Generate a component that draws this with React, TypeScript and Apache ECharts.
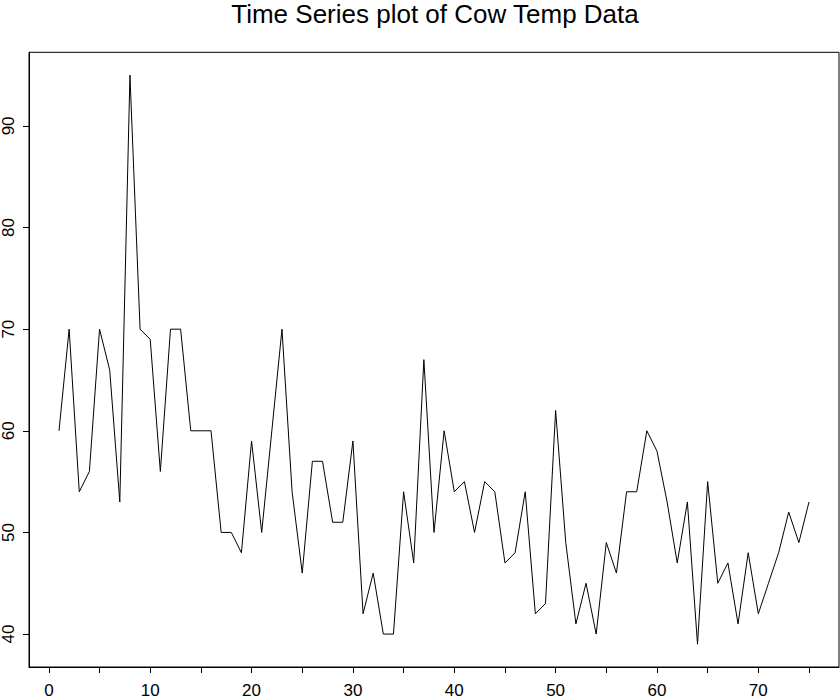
import React, { useEffect, useRef } from "react";
import * as echarts from "echarts";

const timeIndex: number[] = Array.from({ length: 75 }, (_, i) => i + 1);
const cowTemp: number[] = [
  60, 70, 54, 56, 70, 66, 53, 95, 70, 69, 56, 70, 70, 60, 60, 60, 50, 50, 48, 59,
  50, 60, 70, 54, 46, 57, 57, 51, 51, 59, 42, 46, 40, 40, 54, 47, 67, 50, 60, 54,
  55, 50, 55, 54, 47, 48, 54, 42, 43, 62, 49, 41, 45, 40, 49, 46, 54, 54, 60, 58,
  53, 47, 53, 39, 55, 45, 47, 41, 48, 42, 45, 48, 52, 49, 53,
];
const xTickValues: number[] = [0, 5, 10, 15, 20, 25, 30, 35, 40, 45, 50, 55, 60, 65, 70, 75];
const xLabelValues: number[] = [0, 10, 20, 30, 40, 50, 60, 70];
const yTickValues: number[] = [40, 50, 60, 70, 80, 90];
const titleText = "Time Series plot of Cow Temp Data";

export default function App() {
  const ref = useRef<HTMLDivElement>(null);
  useEffect(() => {
    if (!ref.current) return;
    const chart = echarts.init(ref.current, null, { renderer: "svg" });
    const font = "'Liberation Sans', Arial, sans-serif";
    const xMin = 1 - 0.04 * 74;
    const xMax = 75 + 0.04 * 74;
    const yMin = 39 - 0.04 * 56;
    const yMax = 95 + 0.04 * 56;
    chart.setOption({
      animation: false,
      backgroundColor: "#ffffff",
      title: {
        text: titleText,
        left: 435,
        top: 0,
        padding: 0,
        textAlign: "center",
        textStyle: {
          fontFamily: font,
          fontSize: 26,
          lineHeight: 28,
          fontWeight: "normal",
          color: "#000",
        },
      },
      grid: {
        left: 28.3,
        top: 52.3,
        right: 1,
        bottom: 30.7,
        show: true,
        borderColor: "#000",
        borderWidth: 1,
        backgroundColor: "transparent",
      },
      xAxis: {
        type: "value",
        min: xMin,
        max: xMax,
        splitLine: { show: false },
        axisLine: { show: true, onZero: false, lineStyle: { color: "#000", width: 1 } },
        axisTick: {
          show: true,
          customValues: xTickValues,
          length: 6,
          inside: false,
          lineStyle: { color: "#000", width: 1 },
        },
        axisLabel: {
          show: true,
          customValues: xLabelValues,
          margin: 15,
          color: "#000",
          fontFamily: font,
          fontSize: 17,
        },
      },
      yAxis: {
        type: "value",
        min: yMin,
        max: yMax,
        splitLine: { show: false },
        axisLine: { show: true, onZero: false, lineStyle: { color: "#000", width: 1 } },
        axisTick: {
          show: true,
          customValues: yTickValues,
          length: 6,
          inside: false,
          lineStyle: { color: "#000", width: 1 },
        },
        axisLabel: {
          show: true,
          customValues: yTickValues,
          rotate: 90,
          margin: 12,
          color: "#000",
          fontFamily: font,
          fontSize: 17,
        },
      },
      series: [
        {
          type: "line",
          data: timeIndex.map((t, i) => [t, cowTemp[i]]),
          showSymbol: false,
          symbol: "none",
          lineStyle: { color: "#000", width: 1 },
        },
      ],
    });
    return () => chart.dispose();
  }, []);
  return (
    <div
      ref={ref}
      style={{ position: "fixed", left: 0, top: 0, width: 840, height: 699, background: "#fff" }}
    />
  );
}
